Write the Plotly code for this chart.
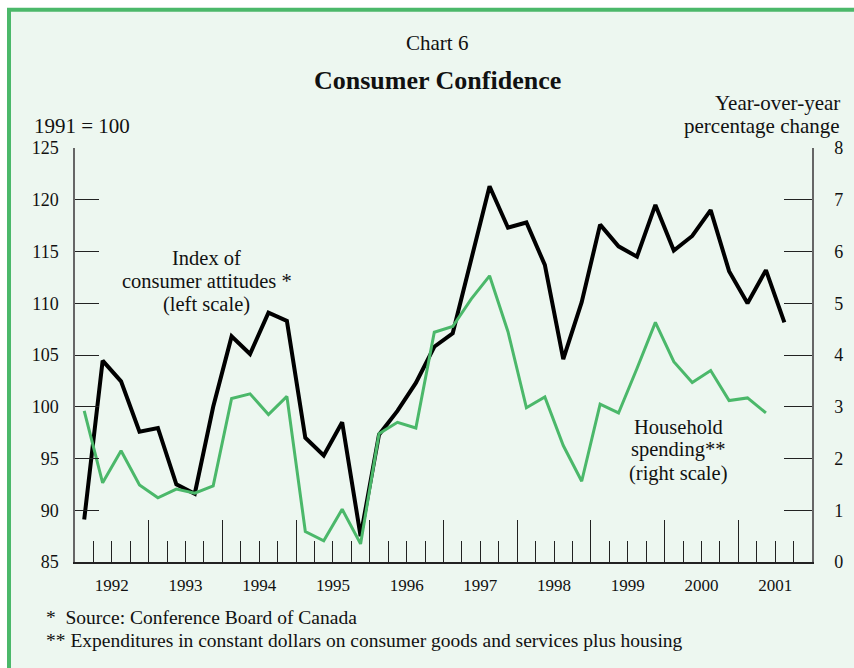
import plotly.graph_objects as go

# ---- data (quarterly, 1992Q1 onwards) ----
start_year = 1992
index_attitudes = [89.1, 104.45, 102.45, 97.6, 97.95, 92.5, 91.6, 100.0,
                   106.8, 105.1, 109.1, 108.3, 97.0, 95.3, 98.5, 87.5,
                   97.3, 99.6, 102.3, 105.8, 107.1, 114.4, 121.3, 117.3,
                   117.8, 113.7, 104.6, 110.1, 117.6, 115.5, 114.5, 119.5,
                   115.1, 116.5, 119.0, 113.1, 110.0, 113.2, 108.15]
household_spending = [2.92, 1.53, 2.15, 1.49, 1.24, 1.41, 1.33, 1.47,
                      3.16, 3.25, 2.85, 3.2, 0.59, 0.41, 1.02, 0.35,
                      2.48, 2.70, 2.59, 4.44, 4.55, 5.08, 5.53, 4.45,
                      2.98, 3.19, 2.25, 1.56, 3.05, 2.88, 3.74, 4.63,
                      3.87, 3.47, 3.70, 3.12, 3.17, 2.88]
year_labels = ["1992", "1993", "1994", "1995", "1996", "1997", "1998", "1999", "2000", "2001"]
left_ticks = [85, 90, 95, 100, 105, 110, 115, 120, 125]
right_ticks = [0, 1, 2, 3, 4, 5, 6, 7, 8]

def qpos(i):
    return start_year + (i + 0.5) / 4.0

x_black = [qpos(i) for i in range(len(index_attitudes))]
x_green = [qpos(i) for i in range(len(household_spending))]

FONT = "Liberation Serif, Times New Roman, serif"
GREEN = "#4BB86A"
BG = "#EDF7F0"
TICKC = "#222222"
LINEC = "#666666"
TXT = "#111111"

fig = go.Figure()
fig.add_trace(go.Scatter(x=x_green, y=household_spending, yaxis="y2", mode="lines",
                         line=dict(color=GREEN, width=3), showlegend=False, hoverinfo="skip"))
fig.add_trace(go.Scatter(x=x_black, y=index_attitudes, mode="lines",
                         line=dict(color="#000000", width=4), showlegend=False, hoverinfo="skip"))

years_int = [int(y) for y in year_labels]
quarter_minor = [y + q / 4.0 for y in years_int for q in (1, 2, 3)]
year_bounds = [y for y in years_int[1:]]

fig.update_layout(
    width=854, height=668,
    margin=dict(l=75, r=42, t=148, b=106, pad=0),
    paper_bgcolor="white", plot_bgcolor="rgba(0,0,0,0)",
    font=dict(family=FONT, size=16, color=TXT),
    xaxis=dict(range=[1992, 2002], tickvals=[y + 0.5 for y in years_int], ticktext=year_labels,
               ticks="", showgrid=False, zeroline=False, showline=True, linecolor=TICKC, linewidth=1.5,
               tickfont=dict(family=FONT, size=17, color=TXT), ticklabelstandoff=7,
               minor=dict(tickvals=quarter_minor, ticks="inside", ticklen=21, tickcolor=TICKC, tickwidth=1.3)),
    xaxis2=dict(range=[1992, 2002], overlaying="x", anchor="y", side="bottom",
                tickvals=year_bounds, ticks="inside", ticklen=42, tickcolor=TICKC, tickwidth=1.3,
                showticklabels=False, showgrid=False, zeroline=False, showline=False),
    yaxis=dict(range=[85, 125], tickvals=left_ticks, ticks="inside", ticklen=24, tickcolor=TICKC,
               tickwidth=1.3, showgrid=False, zeroline=False, showline=True, linecolor=LINEC, linewidth=1.5,
               tickfont=dict(family=FONT, size=18, color=TXT), ticklabelstandoff=11),
    yaxis2=dict(range=[0, 8], tickvals=right_ticks, overlaying="y", side="right", anchor="x",
                ticks="inside", ticklen=28, tickcolor=TICKC, tickwidth=1.3, showgrid=False,
                zeroline=False, showline=True, linecolor=LINEC, linewidth=1.5,
                tickfont=dict(family=FONT, size=18, color=TXT), ticklabelstandoff=17),
)

# invisible trace to activate xaxis2
fig.add_trace(go.Scatter(x=[1992], y=[85], xaxis="x2", mode="markers", marker=dict(opacity=0),
                         showlegend=False, hoverinfo="skip"))

# background panel with green border
W, H = 737.0, 414.0
def px_x(px):
    return (px - 75) / W
def px_y(py):
    return (562.3 - py) / H

fig.add_shape(type="rect", xref="paper", yref="paper",
              x0=px_x(9), x1=px_x(900), y0=px_y(10), y1=px_y(720),
              fillcolor=BG, line=dict(color=GREEN, width=4), layer="below")

def text(t, x, y, size, xanchor="center", xref="paper", yref="paper"):
    return dict(text=t, x=x, y=y, xref=xref, yref=yref, xanchor=xanchor, yanchor="middle",
                showarrow=False, font=dict(family=FONT, size=size, color=TXT))

ann = []
ann.append(text("Chart 6", px_x(437), px_y(43), 21))
ann.append(text("<b>Consumer Confidence</b>", px_x(437), px_y(81), 26))
ann.append(text("1991 = 100", px_x(32), px_y(126), 21, xanchor="left"))
ann.append(text("Year-over-year", px_x(842), px_y(103), 21, xanchor="right"))
ann.append(text("percentage change", px_x(842), px_y(126), 21, xanchor="right"))

# in-plot series labels (line by line)
xa = 1992 + (206.7 - 75) / 73.67
for t, py in [("Index of", 258), ("consumer attitudes *", 281), ("(left scale)", 305)]:
    ann.append(text(t, xa, 85 + (562.3 - py) / 10.35, 20.5, xref="x", yref="y"))
xb = 1992 + (678 - 75) / 73.67
for t, py in [("Household", 427), ("spending**", 450), ("(right scale)", 474)]:
    ann.append(text(t, xb, (562.3 - py) / 51.75, 20.5, xref="x", yref="y2"))

ann.append(text("*  Source: Conference Board of Canada", px_x(44), px_y(618), 19.5, xanchor="left"))
ann.append(text("** Expenditures in constant dollars on consumer goods and services plus housing",
                px_x(44), px_y(641), 19.5, xanchor="left"))
fig.update_layout(annotations=ann)

fig.write_html("out.html", config={"displayModeBar": False},
               post_script="document.body.style.margin='0';document.body.style.padding='0';")
